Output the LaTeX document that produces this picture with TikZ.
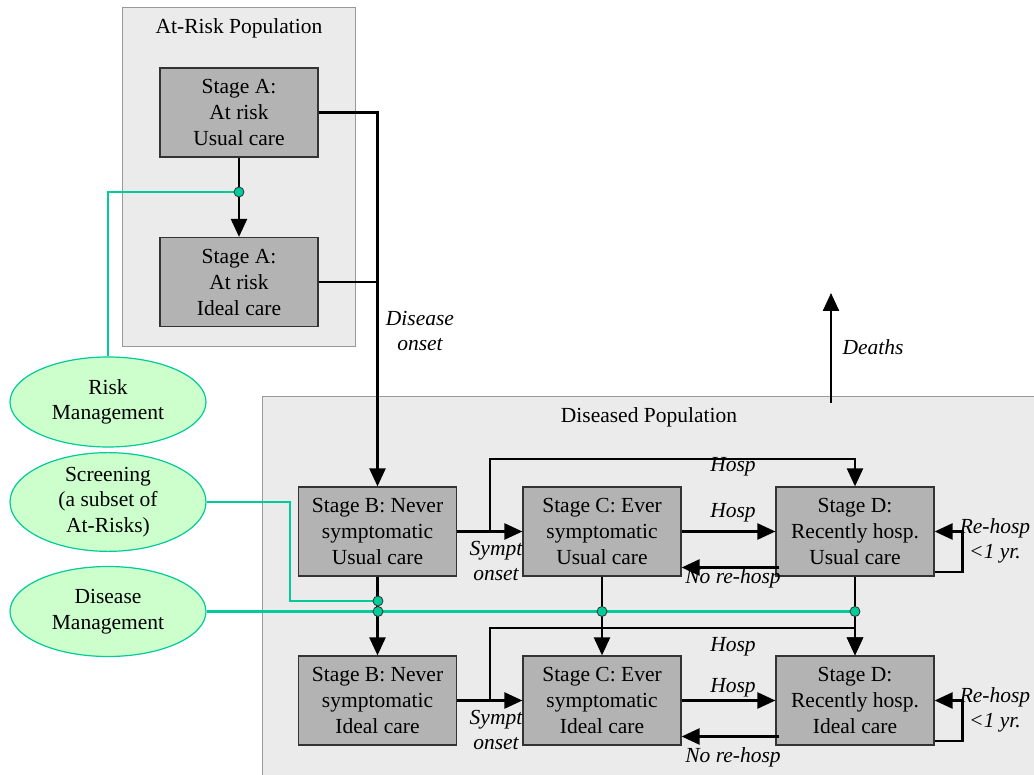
\documentclass[tikz,border=0pt]{standalone}
\usepackage{fontspec}
\setmainfont{Liberation Serif}
\usetikzlibrary{arrows.meta,shapes.geometric,calc}
\definecolor{popfill}{HTML}{EBEBEB}
\definecolor{popdraw}{HTML}{999999}
\definecolor{stagefill}{HTML}{B3B3B3}
\definecolor{mgmtfill}{HTML}{CCFFCC}
\definecolor{mgmtline}{HTML}{00CC99}
\begin{document}
\begin{tikzpicture}[x=1pt,y=-1pt,
 txt/.style={font=\fontsize{21.5}{26}\selectfont},
 lbl/.style={font=\itshape\fontsize{21.5}{25}\selectfont, inner sep=0pt, align=center},
 stagebox/.style={draw=black!80, line width=1.2pt, fill=stagefill, minimum width=158pt, minimum height=89pt, inner sep=0pt, align=center, txt},
 popbox/.style={draw=popdraw, fill=popfill, line width=1pt},
 mgmt/.style={ellipse, draw=mgmtline, line width=1.2pt, fill=mgmtfill, minimum width=196pt, minimum height=90pt, inner sep=0pt, align=center, font=\fontsize{21.5}{25.5}\selectfont},
 flow/.style={line width=2.4pt, -{Triangle[length=18pt,width=16pt]}},
 link/.style={line width=2.4pt},
 mline/.style={draw=mgmtline, line width=2.4pt},
 dot/.style={circle, fill=mgmtline, draw=black!80, line width=0.8pt, minimum size=10pt, inner sep=0pt}
]
\useasboundingbox (0,0) rectangle (1034,775);
\clip (0,0) rectangle (1034,775);
\fill[white] (0,0) rectangle (1034,775);

% populations
\draw[popbox] (122,8) rectangle (355,347);
\node[txt] (artitle) at (239,28) {At-Risk Population};
\draw[popbox] (262,397) rectangle (1060,800);
\node[txt] (dtitle) at (649,417) {Diseased Population};

% stages
\node[stagebox] (au) at (239,112.5) {Stage A:\\At risk\\Usual care};
\node[stagebox] (ai) at (239,282) {Stage A:\\At risk\\Ideal care};
\node[stagebox] (bu) at (377.5,531.5) {Stage B: Never\\symptomatic\\Usual care};
\node[stagebox] (cu) at (602,531.5) {Stage C: Ever\\symptomatic\\Usual care};
\node[stagebox] (du) at (855,531.5) {Stage D:\\Recently hosp.\\Usual care};
\node[stagebox] (bi) at (377.5,700.5) {Stage B: Never\\symptomatic\\Ideal care};
\node[stagebox] (ci) at (602,700.5) {Stage C: Ever\\symptomatic\\Ideal care};
\node[stagebox] (di) at (855,700.5) {Stage D:\\Recently hosp.\\Ideal care};

% management ellipses
\node[mgmt] (rm) at (108,402) {Risk\\Management};
\node[mgmt] (sc) at (108,502) {Screening\\(a subset of\\At-Risks)};
\node[mgmt] (dm) at (108,611.5) {Disease\\Management};

% junction coordinates
\coordinate (sx) at (290,502);
\coordinate (hu) at (490,459);
\coordinate (hi) at (490,628);
\coordinate (dth0) at (831,403);
\coordinate (dth1) at (831,293);

% green management lines
\draw[mline] (239,192) -| (rm.north);
\draw[mline] (sc.east) -- (sx) |- (378,601);
\draw[mline] (dm.east) -- (855,611.5);

% at-risk flows
\draw[flow] (au.south) -- (ai.north);
\draw[flow] (au.east) -| (bu.north);
\draw[link] (ai.east) -- (ai.east -| bu.north);
\node[lbl] (onset) at (420,331) {Disease\\onset};

% deaths
\draw[flow] (dth0) -- (dth1);
\node[lbl] (deaths) at (873,347) {Deaths};

% usual care row
\draw[flow] (bu.east) -- (cu.west);
\node[lbl] (so1) at (496,560.5) {Sympt\\onset};
\draw[flow] (bu.east -| hu) -- (hu) -| (du.north);
\node[lbl] (h1) at (733,467) {Hosp};
\draw[flow] (cu.east) -- (du.west);
\node[lbl] (h2) at (733,513) {Hosp};
\draw[flow] ($(du.west)+(4,36)$) -- ($(cu.east)+(0,36)$);
\node[lbl] (nr1) at (733,578) {No re-hosp};
\draw[flow] ($(du.east)+(0,40.5)$) -| ($(du.east)+(28,0)$) -- (du.east);
\node[lbl] (rh1) at (995,540.5) {Re-hosp\\<1 yr.};

% vertical transitions
\draw[flow] (bu.south) -- (bi.north);
\draw[flow] (cu.south) -- (ci.north);
\draw[flow] (du.south) -- (di.north);

% ideal care row
\draw[flow] (bi.east) -- (ci.west);
\node[lbl] (so2) at (496,729.5) {Sympt\\onset};
\draw[flow] (bi.east -| hi) -- (hi) -| (di.north);
\node[lbl] (h3) at (733,647) {Hosp};
\draw[flow] (ci.east) -- (di.west);
\node[lbl] (h4) at (733,688) {Hosp};
\draw[flow] ($(di.west)+(4,36)$) -- ($(ci.east)+(0,36)$);
\node[lbl] (nr2) at (733,757) {No re-hosp};
\draw[flow] ($(di.east)+(0,40.5)$) -| ($(di.east)+(28,0)$) -- (di.east);
\node[lbl] (rh2) at (995,709.5) {Re-hosp\\<1 yr.};

% junction dots
\node[dot] (da) at (239,192) {};
\node[dot] (db1) at (378,601) {};
\node[dot] (db2) at (378,611.5) {};
\node[dot] (dc) at (602,611.5) {};
\node[dot] (dd) at (855,611.5) {};
\end{tikzpicture}
\end{document}
